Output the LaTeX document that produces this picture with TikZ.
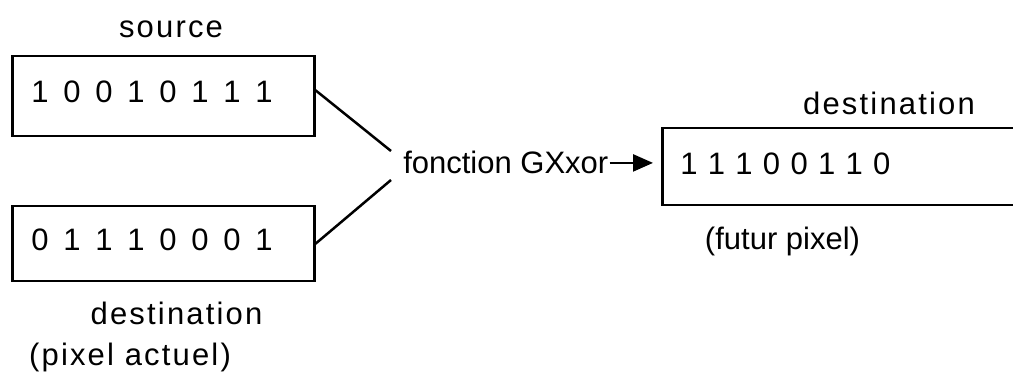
\documentclass[tikz,border=0pt]{standalone}
\usepackage{fontspec}
\setmainfont{Liberation Sans}
\newfontfamily\widefont[LetterSpace=7]{Liberation Sans}
\usetikzlibrary{arrows.meta}
\tikzset{>={Triangle[length=20pt,width=17pt]}}
\tikzset{
  bitbox/.style={draw, anchor=north west, align=left, inner ysep=0pt},
  txtlbl/.style={anchor=base, inner sep=0pt}
}
\newcommand{\widebits}{\spaceskip=14.8pt\relax}

\begin{document}
\begin{tikzpicture}[x=1pt, y=-1pt, line width=2.5pt, every node/.style={font=\fontsize{31}{37}\selectfont}]
        \useasboundingbox (0,0) rectangle (1013,374);

            % Source box
            \node[bitbox, text width=264pt, inner xsep=19pt, minimum height=80pt, text depth=10pt] (src) at (11,55) {\widebits 1 0 0 1 0 1 1 1};
            \node[txtlbl] (srctxt) at (171,38) {\widefont source};

            % Destination box (current pixel)
            \node[bitbox, text width=264pt, inner xsep=19pt, minimum height=75pt, text depth=8pt] (dst) at (11,205) {\widebits 0 1 1 1 0 0 0 1};
            \node[txtlbl] (dsttxt) at (176.5,325) {\widefont destination};
            \node[txtlbl] (acttxt) at (130,366) {\widefont (pixel actuel)};

            % Transfer function
            \node[anchor=base west, inner sep=0pt] (fun) at (402,174) {fonction GXxor};
            \coordinate (jointa) at (391,151);
            \coordinate (jointb) at (391,180);
            \draw ([yshift=6pt]src.east) -- (jointa);
            \draw (dst.east) -- (jointb);

            % Result box (future pixel)
            \node[bitbox, text width=362pt, inner xsep=18pt, minimum height=77pt, text depth=7pt] (res) at (661,127) {1 1 1 0 0 1 1 0};
            \node[txtlbl] (restxt) at (889,115) {\widefont destination};
            \node[txtlbl] (futtxt) at (782.5,250) {(futur pixel)};

            % Arrow to the result
            \draw[->, shorten >=8pt] (fun.east) -- (fun.east -| res.west);

        \end{tikzpicture}
\end{document}
